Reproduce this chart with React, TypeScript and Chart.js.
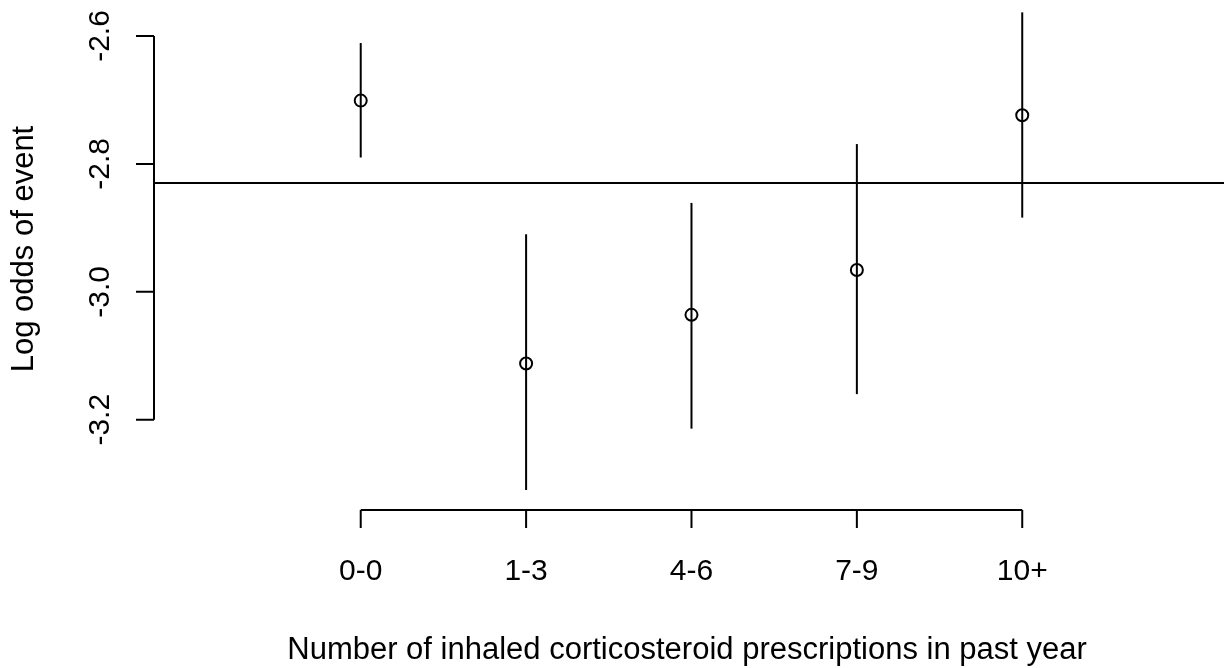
import React, { useEffect, useRef } from "react";
import { Chart, registerables } from "chart.js";

Chart.register(...registerables);

// Data
const categories = ["0-0", "1-3", "4-6", "7-9", "10+"];
const xPositions = [1, 2, 3, 4, 5];
const estimates = [-2.701, -3.112, -3.036, -2.966, -2.724];
const lowerCI = [-2.790, -3.310, -3.214, -3.160, -2.884];
const upperCI = [-2.611, -2.910, -2.861, -2.769, -2.563];
const referenceLine = -2.830;
const yTicks = [-2.6, -2.8, -3.0, -3.2];
const yTickLabels = ["-2.6", "-2.8", "-3.0", "-3.2"];
const xTitle = "Number of inhaled corticosteroid prescriptions in past year";
const yTitle = "Log odds of event";

const FONT = '30px "Liberation Sans", Arial, Helvetica, sans-serif';
const TITLE_FONT = '31px "Liberation Sans", Arial, Helvetica, sans-serif';
const INK = "#000000";

const rAxesPlugin = {
  id: "rAxes",
  beforeDatasetsDraw(chart: any) {
    const { ctx, chartArea, scales } = chart;
    const ys = scales.y;
    ctx.save();
    ctx.strokeStyle = INK;
    ctx.lineWidth = 2;
    const yr = ys.getPixelForValue(referenceLine);
    ctx.beginPath();
    ctx.moveTo(chartArea.left, yr);
    ctx.lineTo(chartArea.right, yr);
    ctx.stroke();
    ctx.restore();
  },
  afterDraw(chart: any) {
    const { ctx, chartArea, scales } = chart;
    const xs = scales.x;
    const ys = scales.y;
    ctx.save();
    ctx.strokeStyle = INK;
    ctx.fillStyle = INK;
    ctx.lineWidth = 2;
    ctx.lineCap = "butt";
    const tickLen = 18;

    // y axis
    const ax = chartArea.left;
    const yTop = ys.getPixelForValue(yTicks[0]);
    const yBot = ys.getPixelForValue(yTicks[yTicks.length - 1]);
    ctx.beginPath();
    ctx.moveTo(ax, yTop);
    ctx.lineTo(ax, yBot);
    yTicks.forEach((v) => {
      const p = ys.getPixelForValue(v);
      ctx.moveTo(ax, p);
      ctx.lineTo(ax - tickLen, p);
    });
    ctx.stroke();
    ctx.font = FONT;
    ctx.textAlign = "center";
    ctx.textBaseline = "alphabetic";
    yTicks.forEach((v, i) => {
      const p = ys.getPixelForValue(v);
      ctx.save();
      ctx.translate(109, p);
      ctx.rotate(-Math.PI / 2);
      ctx.fillText(yTickLabels[i], 0, 0);
      ctx.restore();
    });

    // x axis
    const ay = chartArea.bottom;
    const xL = xs.getPixelForValue(xPositions[0]);
    const xR = xs.getPixelForValue(xPositions[xPositions.length - 1]);
    ctx.beginPath();
    ctx.moveTo(xL, ay);
    ctx.lineTo(xR, ay);
    xPositions.forEach((v) => {
      const p = xs.getPixelForValue(v);
      ctx.moveTo(p, ay);
      ctx.lineTo(p, ay + tickLen);
    });
    ctx.stroke();
    xPositions.forEach((v, i) => {
      const p = xs.getPixelForValue(v);
      ctx.fillText(categories[i], p, 580);
    });

    // titles
    ctx.font = TITLE_FONT;
    ctx.fillText(xTitle, 687, 659);
    ctx.save();
    ctx.translate(33, 249);
    ctx.rotate(-Math.PI / 2);
    ctx.fillText(yTitle, 0, 0);
    ctx.restore();
    ctx.restore();
  },
};

export default function App() {
  const canvasRef = useRef<HTMLCanvasElement | null>(null);

  useEffect(() => {
    if (!canvasRef.current) return;
    const errorBarSets = xPositions.map((x, i) => ({
      type: "line" as const,
      data: [
        { x, y: lowerCI[i] },
        { x, y: upperCI[i] },
      ],
      borderColor: INK,
      borderWidth: 2,
      pointRadius: 0,
      showLine: true,
      fill: false,
    }));
    const chart = new Chart(canvasRef.current, {
      type: "scatter",
      data: {
        datasets: [
          ...errorBarSets,
          {
            type: "scatter",
            data: xPositions.map((x, i) => ({ x, y: estimates[i] })),
            pointStyle: "circle",
            pointRadius: 6,
            borderColor: INK,
            borderWidth: 2,
            backgroundColor: "rgba(0,0,0,0)",
          },
        ] as any,
      },
      options: {
        animation: false,
        responsive: false,
        events: [],
        layout: { autoPadding: false, padding: { left: 154, right: 0, top: 0, bottom: 158 } },
        plugins: {
          legend: { display: false },
          tooltip: { enabled: false },
        },
        scales: {
          x: { type: "linear", display: false, min: -0.25, max: 6.22 },
          y: { type: "linear", display: false, min: -3.3412, max: -2.5437 },
        },
      },
      plugins: [rAxesPlugin],
    });
    return () => chart.destroy();
  }, []);

  return (
    <div style={{ position: "absolute", left: 0, top: 0, width: 1224, height: 668, background: "#fff" }}>
      <canvas ref={canvasRef} width={1224} height={668} style={{ display: "block" }} />
    </div>
  );
}
